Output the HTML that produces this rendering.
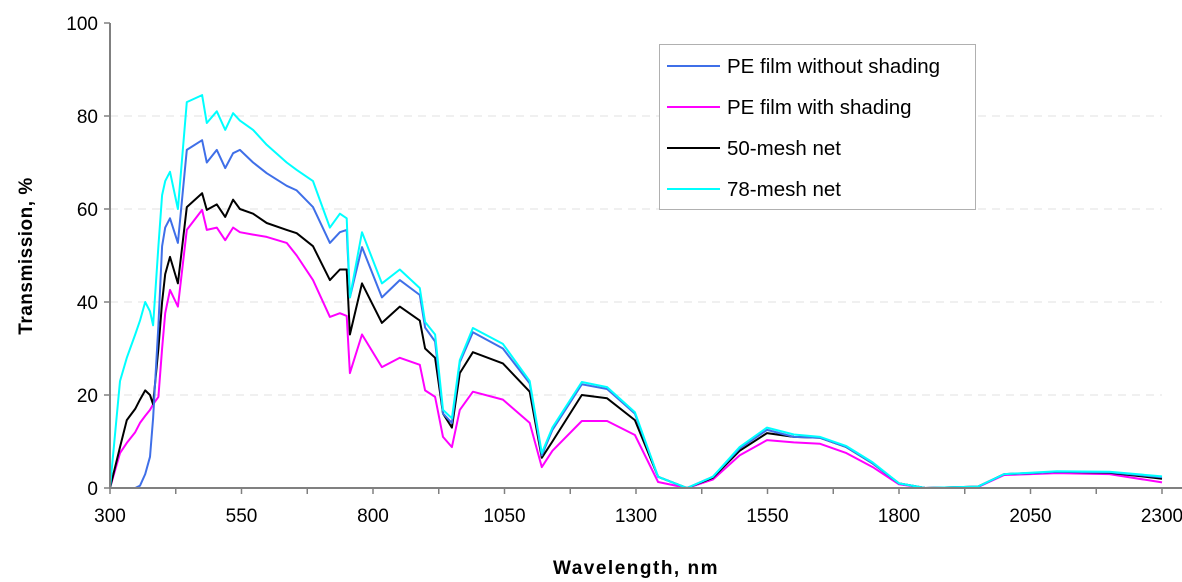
<!DOCTYPE html>
<html><head><meta charset="utf-8"><style>
body{margin:0;background:#fff}
svg{display:block;font-family:"Liberation Sans",Arial,sans-serif}
</style></head><body>
<svg id="chart" width="1182" height="582" viewBox="0 0 1182 582" xmlns="http://www.w3.org/2000/svg">
<g id="grid"></g>
<g id="series"></g>
<g id="axes"></g>
<text transform="translate(32,256) rotate(-90)" text-anchor="middle" font-size="19" font-weight="bold" letter-spacing="0.5">Transmission, %</text>
<text x="636" y="574" text-anchor="middle" font-size="19" font-weight="bold" letter-spacing="1.5">Wavelength, nm</text>
<g>
<rect x="659.5" y="44.5" width="316" height="165" fill="#fff" stroke="#b0b0b0" stroke-width="1"/>
<g><line x1="667" y1="66" x2="720" y2="66" stroke="#3f6fe8" stroke-width="2"/><text x="727" y="73" font-size="20.5">PE film without shading</text></g>
<g><line x1="667" y1="107" x2="720" y2="107" stroke="#ff00ff" stroke-width="2"/><text x="727" y="114" font-size="20.5">PE film with shading</text></g>
<g><line x1="667" y1="148" x2="720" y2="148" stroke="#000" stroke-width="2"/><text x="727" y="155" font-size="20.5">50-mesh net</text></g>
<g><line x1="667" y1="189" x2="720" y2="189" stroke="#00ffff" stroke-width="2"/><text x="727" y="196" font-size="20.5">78-mesh net</text></g>
</g>
</svg>
<script>
const wavelengths=[300,319,332,348,357,367,376,382,392,399,405,414,429,446,475,484,503,519,534,547,572,598,636,655,686,718,737,750,756,779,817,851,889,899,918,933,950,965,990,1047,1098,1121,1141,1197,1245,1298,1342,1397,1446,1497,1549,1600,1650,1700,1750,1800,1850,1950,2000,2050,2100,2200,2300];
const peWithout=[0,0,0,0,0.5,3,6.7,15,35,52,56,58,52.7,72.7,74.8,70,72.7,68.8,72,72.7,70,67.7,65,64,60.4,52.7,55,55.5,41,51.8,41,44.7,41.5,34.5,31.5,16,14,27,33.5,30,22.5,7,12.5,22.3,21.3,16,2.4,0,2.4,8.5,12.5,11,10.8,8.8,5.3,1,0,0.3,3,3.2,3.5,3.4,2.3];
const peWith=[0,7.5,9.7,12,14,15.5,16.8,18,19.6,30,37.6,42.6,39,55.5,59.8,55.5,56,53.3,56,55,54.5,54,52.7,50,44.7,36.8,37.6,37,24.7,33,26,28,26.5,21,19.6,11,8.8,16.8,20.7,19,14,4.5,8,14.4,14.4,11.4,1.3,0,1.8,7,10.3,9.8,9.5,7.5,4.5,0.8,0,0.2,2.8,3,3.2,3,1.2];
const mesh50=[0,8.8,14.6,17,19,21,20,18,30,40,46,49.7,44,60.4,63.4,59.8,61,58.3,62,60,59,57,55.5,54.8,52,44.7,47,47,33,44,35.5,39,36,30,28,16,13,24.7,29.2,26.8,20.7,6.5,10,20,19.3,14.6,2.4,0,2.2,8,11.8,11,10.8,8.8,5.3,1,0,0.3,3,3.2,3.5,3.3,2];
const mesh78=[0,23,28,33,36,40,38,35,52,63,66,68,60,83,84.5,78.5,81,77,80.6,79,77,73.8,70,68.4,66,56,59,58,41,55,44,47,43,35.7,33,16.8,15,27.5,34.4,31,23,7.5,13,22.8,21.7,16.3,2.4,0,2.4,8.8,13,11.5,11,9,5.5,1,0,0.3,3,3.3,3.6,3.5,2.5];
const yTicks=[0,20,40,60,80,100];
const xLabels=[300,550,800,1050,1300,1550,1800,2050,2300];
const xMinor=[425,675,925,1175,1425,1675,1925,2175];

const NS='http://www.w3.org/2000/svg';
const X0=110,X1=1162,Y0=488,Y1=23;
function xs(v){return X0+(v-300)/2000*(X1-X0);}
function ys(v){return Y0-v/100*(Y0-Y1);}
function mk(tag,attrs,parent){const e=document.createElementNS(NS,tag);for(const k in attrs)e.setAttribute(k,attrs[k]);parent.appendChild(e);return e;}
const grid=document.getElementById('grid'),axes=document.getElementById('axes'),ser=document.getElementById('series');
yTicks.forEach(t=>{
  if(t>0&&t<100){const g=mk('line',{x1:X0,x2:X1,y1:ys(t),y2:ys(t),stroke:'#e0e0e0','stroke-width':1,'stroke-dasharray':'8,6'},grid);
  
  }
  const tk=mk('line',{x1:X0-6,x2:X0,y1:ys(t),y2:ys(t),stroke:'#808080','stroke-width':1.5},axes);
  
  
  const lb=mk('text',{x:X0-12,y:ys(t)+7,'text-anchor':'end','font-size':19},axes);
  lb.textContent=t;
  
  
});
xLabels.concat(xMinor).forEach(t=>{
  const tk=mk('line',{x1:xs(t),x2:xs(t),y1:Y0,y2:Y0+6,stroke:'#808080','stroke-width':1.5},axes);
  
  
});
xLabels.forEach(t=>{
  const lb=mk('text',{x:xs(t),y:Y0+34,'text-anchor':'middle','font-size':19},axes);
  lb.textContent=t;
  
  
});
const ya=mk('line',{x1:X0,x2:X0,y1:Y1,y2:Y0+1,stroke:'#808080','stroke-width':2},axes);


const xa=mk('line',{x1:X0,x2:X1+20,y1:Y0,y2:Y0,stroke:'#808080','stroke-width':2},axes);


function draw(vals,color,name){
  const pts=wavelengths.map((w,i)=>xs(w).toFixed(1)+','+ys(vals[i]).toFixed(1)).join(' ');
  const p=mk('polyline',{points:pts,fill:'none',stroke:color,'stroke-width':2,'stroke-linejoin':'round'},ser);
  
  
}
draw(peWith,'#ff00ff','series-pe-with-shading');
draw(mesh50,'#000000','series-50-mesh');
draw(peWithout,'#3f6fe8','series-pe-without-shading');
draw(mesh78,'#00ffff','series-78-mesh');
</script>
</body></html>
